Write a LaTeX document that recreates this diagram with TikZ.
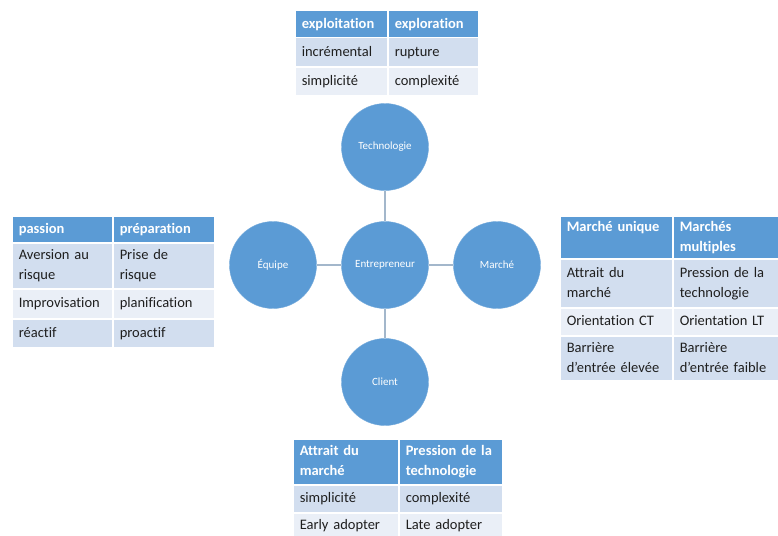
\documentclass[tikz,border=0pt]{standalone}
\usepackage{fontspec}
\setmainfont[Ligatures={NoCommon}]{Carlito}
\definecolor{ppblue}{HTML}{5B9BD5}
\definecolor{rowdark}{HTML}{D2DEEF}
\definecolor{rowlight}{HTML}{EAEFF7}
\definecolor{linkgray}{HTML}{A3B7CB}
\definecolor{celltext}{HTML}{1F1F1F}
\newcommand\cellstrut{\rule[-4pt]{0pt}{16pt}}

\begin{document}
\begin{tikzpicture}[x=1pt,y=-1pt]

	\tikzstyle{cell}=[rectangle,draw=white,line width=1.5pt,
		anchor=north west,inner xsep=7pt,inner ysep=0pt,align=left,
		text=celltext,font=\fontsize{14.5}{20}\selectfont,
		execute at begin node=\cellstrut,execute at end node=\cellstrut]
	\tikzstyle{head}=[cell,fill=ppblue,text=white,
		font=\fontsize{14.5}{20}\selectfont\bfseries]
	\tikzstyle{rowA}=[cell,fill=rowdark]
	\tikzstyle{rowB}=[cell,fill=rowlight]
	\tikzstyle{topic}=[circle,fill=ppblue,draw=ppblue!85!white,
		minimum size=87pt,inner sep=0pt,
		text=white,font=\fontsize{11}{13}\selectfont]
	\tikzstyle{link}=[draw=linkgray,line width=2pt]

	\useasboundingbox[fill=white] (0,0) rectangle (778,535);

	% circles
	\node[topic]	(ent)		at (385,265)	{Entrepreneur};
	\node[topic]	(tech)		at (385,147)	{Technologie};
	\node[topic]	(equipe)	at (273,265)	{Équipe};
	\node[topic]	(marche)	at (497,265)	{Marché};
	\node[topic]	(client)	at (385,382)	{Client};

	\draw[link] (ent) -- (tech);
	\draw[link] (ent) -- (equipe);
	\draw[link] (ent) -- (marche);
	\draw[link] (ent) -- (client);

	% table technologie
	\node[head,text width=79pt,minimum height=27pt]	(tech11) at (294,10) {exploitation};
	\node[head,text width=77pt,minimum height=27pt]	(tech12) at (387,10) {exploration};
	\node[rowA,text width=79pt,minimum height=29pt]	(tech21) at (294,37) {incrémental};
	\node[rowA,text width=77pt,minimum height=29pt]	(tech22) at (387,37) {rupture};
	\node[rowB,text width=79pt,minimum height=29pt]	(tech31) at (294,66) {simplicité};
	\node[rowB,text width=77pt,minimum height=29pt]	(tech32) at (387,66) {complexité};

	% table equipe
	\node[head,text width=87pt,minimum height=27pt]	(eq11) at (11,215)  {passion};
	\node[head,text width=88pt,minimum height=27pt]	(eq12) at (112,215) {préparation};
	\node[rowA,text width=87pt,minimum height=46pt]	(eq21) at (11,242)  {Aversion au\\risque};
	\node[rowA,text width=88pt,minimum height=46pt]	(eq22) at (112,242) {Prise de\\risque};
	\node[rowB,text width=87pt,minimum height=30pt]	(eq31) at (11,288)  {Improvisation};
	\node[rowB,text width=88pt,minimum height=30pt]	(eq32) at (112,288) {planification};
	\node[rowA,text width=87pt,minimum height=29pt]	(eq41) at (11,318)  {réactif};
	\node[rowA,text width=88pt,minimum height=29pt]	(eq42) at (112,318) {proactif};

	% table marche
	\node[head,text width=99pt,minimum height=43pt]	(ma11) at (559,215) {Marché unique\\~};
	\node[head,text width=98pt,minimum height=43pt]	(ma12) at (672,215) {Marchés\\multiples};
	\node[rowA,text width=99pt,minimum height=49pt]	(ma21) at (559,258) {Attrait du\\marché};
	\node[rowA,text width=98pt,minimum height=49pt]	(ma22) at (672,258) {Pression de la\\technologie};
	\node[rowB,text width=99pt,minimum height=28pt]	(ma31) at (559,307) {Orientation CT};
	\node[rowB,text width=98pt,minimum height=28pt]	(ma32) at (672,307) {Orientation LT};
	\node[rowA,text width=99pt,minimum height=45pt]	(ma41) at (559,335) {Barrière\\d’entrée élevée};
	\node[rowA,text width=98pt,minimum height=45pt]	(ma42) at (672,335) {Barrière\\d’entrée faible};

	% table client
	\node[head,text width=92pt,minimum height=46pt]	(cl11) at (292,438) {Attrait du\\marché};
	\node[head,text width=90pt,minimum height=46pt]	(cl12) at (398,438) {Pression de la\\technologie};
	\node[rowA,text width=92pt,minimum height=28pt]	(cl21) at (292,484) {simplicité};
	\node[rowA,text width=90pt,minimum height=28pt]	(cl22) at (398,484) {complexité};
	\node[rowB,text width=92pt,minimum height=26pt]	(cl31) at (292,512) {Early adopter};
	\node[rowB,text width=90pt,minimum height=26pt]	(cl32) at (398,512) {Late adopter};

\end{tikzpicture}
\end{document}
